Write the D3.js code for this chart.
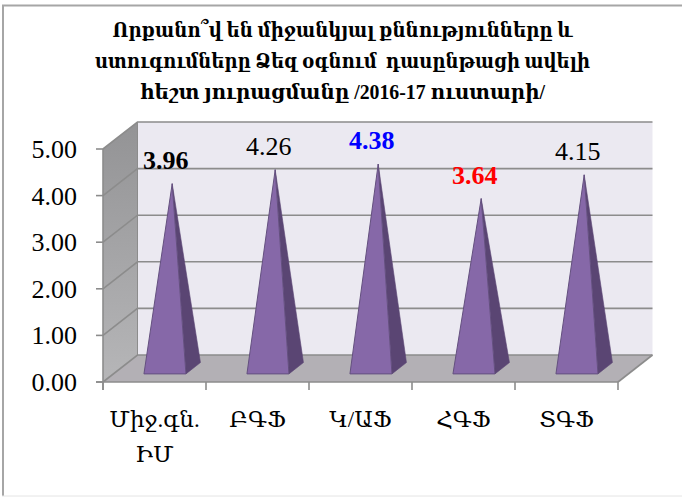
<!DOCTYPE html>
<html><head><meta charset="utf-8">
<script src="https://cdn.jsdelivr.net/npm/d3@7"></script>
<style>html,body{margin:0;padding:0;background:#fff}svg{display:block}</style>
</head><body>
<script>
const categories = [["Միջ.գն.","ԻՄ"],["ԲԳՖ"],["Կ/ԱՖ"],["ՀԳՖ"],["ՏԳՖ"]];
const values = [3.96,4.26,4.38,3.64,4.15];
const labelColors = ["#000","#000","#0000ff","#ff0000","#000"];
const labelBold = [true,false,true,true,false];
const tickValues = [0,1,2,3,4,5];
const titleLines = ["Որքանո՞վ են միջանկյալ քննությունները և","ստուգումները Ձեզ օգնում  դասընթացի ավելի","հեշտ յուրացմանը /2016-17 ուստարի/"];
const titleWidths = [460,495,405];

const W=682,H=497;
const FONT='"Liberation Serif","DejaVu Serif",serif';
const svg=d3.select("body").append("svg").attr("width",W).attr("height",H);
const x=d3.scaleBand().domain(d3.range(categories.length)).range([103,618]);
const y=d3.scaleLinear().domain([0,5]).range([382,149]);
const dx=34.5, dy=-27;
const grid="#8c8c8c";

svg.append("line").attr("x1",2).attr("x2",W).attr("y1",5.5).attr("y2",5.5).attr("stroke","#a6a6a6").attr("stroke-width",2);
svg.append("line").attr("x1",3).attr("x2",3).attr("y1",5).attr("y2",H-1).attr("stroke","#a6a6a6").attr("stroke-width",2);
svg.append("line").attr("x1",2).attr("x2",W).attr("y1",496).attr("y2",496).attr("stroke","#e4e4e4").attr("stroke-width",1);

titleLines.forEach((t,i)=>svg.append("text").attr("x",342.5).attr("y",37+i*30.8)
  .attr("text-anchor","middle").attr("font-family",FONT).attr("font-weight","bold")
  .attr("font-size",21).attr("textLength",titleWidths[i]).attr("lengthAdjust","spacingAndGlyphs")
  .style("white-space","pre").text(t));

const x0=x.range()[0],x1=x.range()[1],y0=y(0),y5=y(5);
const pts=a=>a.map(p=>p.join(",")).join(" ");
svg.append("polygon").attr("points",pts([[x0+dx,y5+dy],[x1+dx,y5+dy],[x1+dx,y0+dy],[x0+dx,y0+dy]])).attr("fill","#ebe9f1");
const defs=svg.append("defs");
const g1=defs.append("linearGradient").attr("id","side").attr("x1",0).attr("x2",0).attr("y1",0).attr("y2",1);
g1.append("stop").attr("offset",0).attr("stop-color","#939395");
g1.append("stop").attr("offset",1).attr("stop-color","#b6b6b8");
svg.append("polygon").attr("points",pts([[x0,y5],[x0+dx,y5+dy],[x0+dx,y0+dy],[x0,y0]])).attr("fill","url(#side)");
svg.append("polygon").attr("points",pts([[x0,y0],[x0+dx,y0+dy],[x1+dx,y0+dy],[x1,y0]])).attr("fill","#b3b0b5");
tickValues.forEach(v=>{
  svg.append("polyline").attr("points",pts([[x0,y(v)],[x0+dx,y(v)+dy],[x1+dx,y(v)+dy]]))
    .attr("fill","none").attr("stroke",grid).attr("stroke-width",1.6);
});
svg.append("line").attr("x1",x0+dx).attr("x2",x0+dx).attr("y1",y5+dy).attr("y2",y0+dy).attr("stroke",grid).attr("stroke-width",1);
svg.append("line").attr("x1",x0).attr("x2",x0).attr("y1",y5).attr("y2",y0+8).attr("stroke",grid).attr("stroke-width",1.6);
svg.append("line").attr("x1",x0-7).attr("x2",x1).attr("y1",y0).attr("y2",y0).attr("stroke",grid).attr("stroke-width",1.6);
svg.append("line").attr("x1",x1).attr("x2",x1+dx).attr("y1",y0).attr("y2",y0+dy).attr("stroke",grid).attr("stroke-width",1.6);
tickValues.forEach(v=>{
  svg.append("line").attr("x1",x0-7).attr("x2",x0).attr("y1",y(v)).attr("y2",y(v)).attr("stroke",grid).attr("stroke-width",1.6);
  svg.append("text").attr("x",77).attr("y",y(v)+9).attr("text-anchor","end")
    .attr("font-family",FONT).attr("font-size",26).text(v.toFixed(2));
});
d3.range(categories.length+1).forEach(i=>{
  const tx=x0+x.step()*i;
  svg.append("line").attr("x1",tx).attr("x2",tx).attr("y1",y0).attr("y2",y0+8).attr("stroke",grid).attr("stroke-width",1.6);
});
x.domain().forEach(i=>{
  categories[i].forEach((t,j)=>svg.append("text").attr("x",x(i)+x.bandwidth()/2).attr("y",427+j*35)
    .attr("text-anchor","middle").attr("font-family",FONT).attr("font-size",23).text(t));
});
const unit=y(0)-y(1);
const hw=21;
const d1=0.3,d2=0.72;
values.forEach((v,i)=>{
  const c=x(i)+x.bandwidth()/2;
  const fl=[c-hw+dx*d1+0.1,y0+dy*d1],fr=[c+hw+dx*d1+0.1,y0+dy*d1];
  const br=[c+hw+dx*d2+0.1,y0+dy*d2];
  const cx=(fl[0]+br[0])/2, cy=(fl[1]+br[1])/2;
  const apex=[cx,cy-v*unit];
  svg.append("polygon").attr("points",pts([apex,fr,br])).attr("fill","#5a4573").attr("stroke","#5a4573").attr("stroke-width",.6);
  svg.append("polygon").attr("points",pts([apex,fl,fr])).attr("fill","#8668a8").attr("stroke","#64507f").attr("stroke-width",1);
  svg.append("text").attr("x",cx-6.5).attr("y",apex[1]-15)
    .attr("text-anchor","middle").attr("font-family",FONT).attr("font-size",26)
    .attr("font-weight",labelBold[i]?"bold":"normal").attr("fill",labelColors[i]).text(v.toFixed(2));
});
</script>
</body></html>
